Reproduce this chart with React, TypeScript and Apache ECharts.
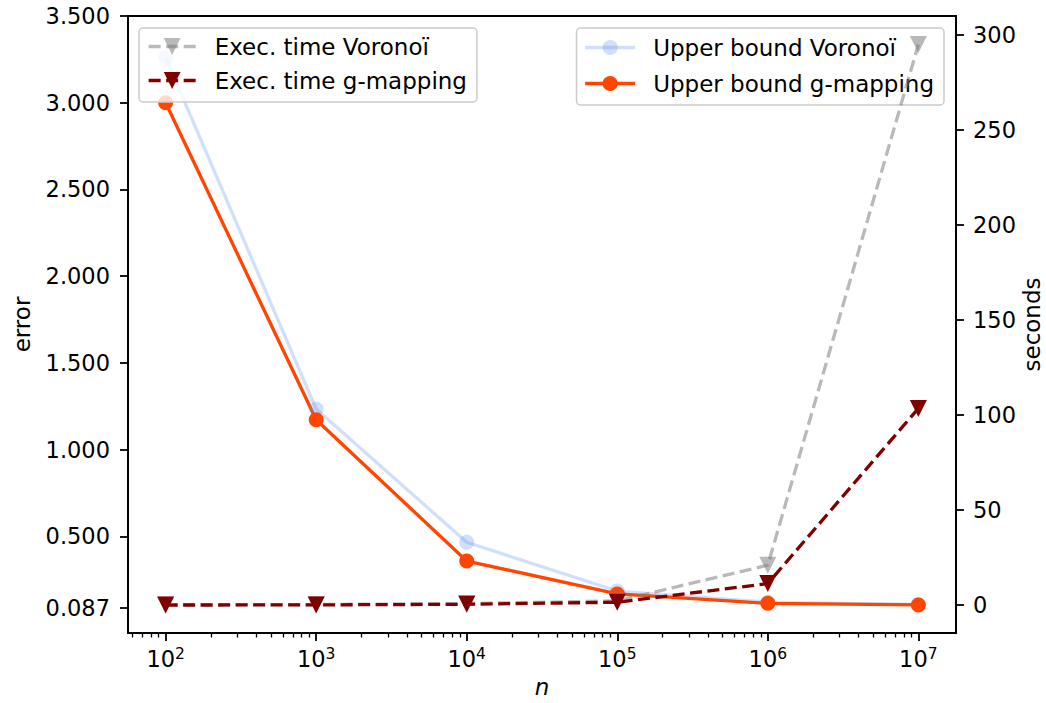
import React, { useEffect, useRef } from "react";
import * as echarts from "echarts";

const nValues = [1e2, 1e3, 1e4, 1e5, 1e6, 1e7];
const ubVoronoi = [3.26, 1.234, 0.466, 0.185, 0.12, 0.108];
const ubGmap = [3.0, 1.172, 0.358, 0.168, 0.114, 0.105];
const timeVoronoi = [0.05, 0.3, 0.8, 2.2, 21, 295];
const timeGmap = [0.02, 0.1, 0.4, 1.5, 11.3, 103.5];

const xMajorExp = [2, 3, 4, 5, 6, 7];
const leftTicks = [0.087, 0.5, 1.0, 1.5, 2.0, 2.5, 3.0, 3.5];
const rightTicks = [0, 50, 100, 150, 200, 250, 300];

const FONT = "DejaVu Sans";
const X_MIN = 1.75;
const X_MAX = 7.25;
const TICK_FS = 22.5;
const TEXT_FS = 23;

const minorTicks: number[] = [];
for (let e = 1; e <= 7; e++) {
  for (let k = 2; k <= 9; k++) {
    const v = Math.log10(k * Math.pow(10, e));
    if (v >= X_MIN && v <= X_MAX) minorTicks.push(v);
  }
}

const toPairs = (ys: number[]) => nValues.map((n, i) => [Math.log10(n), ys[i]]);

export default function App() {
  const ref = useRef<HTMLDivElement>(null);
  useEffect(() => {
    if (!ref.current) return;
    const chart = echarts.init(ref.current, null, { renderer: "svg" });
    const gridRect = { left: 128, right: 90, top: 16, bottom: 70 };
    const lw = 3.3;
    const dash = [12, 5.5];
    const option: any = {
      animation: false,
      backgroundColor: "#fff",
      textStyle: { fontFamily: FONT },
      grid: [
        { ...gridRect, show: true, borderColor: "#000", borderWidth: 1.8, backgroundColor: "transparent", containLabel: false, outerBoundsMode: "none" },
        { ...gridRect, show: false, containLabel: false, outerBoundsMode: "none" },
      ],
      xAxis: [
        {
          type: "value",
          gridIndex: 0,
          min: X_MIN,
          max: X_MAX,
          position: "bottom",
          name: "n",
          nameLocation: "middle",
          nameGap: 41,
          nameTextStyle: { fontFamily: FONT, fontSize: TEXT_FS, fontStyle: "italic", color: "#000" },
          axisLine: { show: true, onZero: false, lineStyle: { color: "#000", width: 1.8 } },
          axisTick: { show: true, length: 8, customValues: xMajorExp, lineStyle: { color: "#000", width: 1.8 } },
          axisLabel: {
            show: true,
            margin: 13,
            customValues: xMajorExp,
            formatter: (v: number) => `{b|10}{s|${Math.round(v)}}`,
            rich: {
              b: { fontFamily: FONT, fontSize: TICK_FS, lineHeight: 26, color: "#000" },
              s: { fontFamily: FONT, fontSize: 15.5, lineHeight: 15, verticalAlign: "top", color: "#000" },
            },
          },
          splitLine: { show: false },
        },
        {
          type: "value",
          gridIndex: 1,
          min: X_MIN,
          max: X_MAX,
          position: "bottom",
          axisLine: { show: false, onZero: false },
          axisTick: { show: true, length: 4.5, customValues: minorTicks, lineStyle: { color: "#000", width: 1.3 } },
          axisLabel: { show: false },
          splitLine: { show: false },
        },
      ],
      yAxis: [
        {
          type: "value",
          gridIndex: 0,
          position: "left",
          min: -0.057,
          max: 3.5,
          name: "error",
          nameLocation: "middle",
          nameGap: 95,
          nameTextStyle: { fontFamily: FONT, fontSize: TEXT_FS, color: "#000" },
          axisLine: { show: true, onZero: false, lineStyle: { color: "#000", width: 1.8 } },
          axisTick: { show: true, length: 8, customValues: leftTicks, lineStyle: { color: "#000", width: 1.8 } },
          axisLabel: {
            show: true,
            margin: 18,
            customValues: leftTicks,
            formatter: (v: number) => v.toFixed(3),
            fontFamily: FONT,
            fontSize: TICK_FS,
            color: "#000",
          },
          splitLine: { show: false },
        },
        {
          type: "value",
          gridIndex: 0,
          position: "right",
          min: -14.7,
          max: 310,
          name: "seconds",
          nameLocation: "middle",
          nameGap: 67,
          nameMoveOverlap: false,
          nameTextStyle: { fontFamily: FONT, fontSize: TEXT_FS, lineHeight: 18, color: "#000" },
          axisLine: { show: true, onZero: false, lineStyle: { color: "#000", width: 1.8 } },
          axisTick: { show: true, length: 8, customValues: rightTicks, lineStyle: { color: "#000", width: 1.8 } },
          axisLabel: {
            show: true,
            margin: 17,
            customValues: rightTicks,
            formatter: (v: number) => String(Math.round(v)),
            fontFamily: FONT,
            fontSize: TICK_FS,
            color: "#000",
          },
          splitLine: { show: false },
        },
        {
          type: "value",
          gridIndex: 1,
          show: false,
          min: 0,
          max: 1,
        },
      ],
      legend: [
        {
          data: ["Exec. time Voronoï", "Exec. time g-mapping"],
          orient: "vertical",
          left: 139,
          top: 28,
          z: 6,
          itemWidth: 47,
          itemHeight: 21,
          itemGap: 11,
          padding: [7, 10, 10, 8],
          backgroundColor: "rgba(255,255,255,0.8)",
          borderColor: "#cccccc",
          borderWidth: 1.5,
          borderRadius: 4,
          lineStyle: { width: lw },
          textStyle: { fontFamily: FONT, fontSize: TEXT_FS, lineHeight: 22, color: "#000", padding: [0, 0, 0, 14] },
        },
        {
          data: ["Upper bound Voronoï", "Upper bound g-mapping"],
          orient: "vertical",
          right: 102,
          top: 28,
          z: 2,
          itemWidth: 50,
          itemHeight: 19,
          itemGap: 13,
          padding: [8, 10, 10, 7],
          backgroundColor: "rgba(255,255,255,0.8)",
          borderColor: "#cccccc",
          borderWidth: 1.5,
          borderRadius: 4,
          lineStyle: { width: lw },
          textStyle: { fontFamily: FONT, fontSize: TEXT_FS, lineHeight: 22, color: "#000", padding: [0, 0, 0, 13] },
        },
      ],
      series: [
        {
          name: "Upper bound Voronoï",
          type: "line",
          xAxisIndex: 0,
          yAxisIndex: 0,
          z: 1,
          data: toPairs(ubVoronoi),
          symbol: "circle",
          symbolSize: 15,
          color: "#6495ED",
          lineStyle: { color: "#6495ED", width: lw, opacity: 0.3 },
          itemStyle: { color: "#6495ED", opacity: 0.3 },
        },
        {
          name: "Upper bound g-mapping",
          type: "line",
          xAxisIndex: 0,
          yAxisIndex: 0,
          z: 1,
          data: toPairs(ubGmap),
          symbol: "circle",
          symbolSize: 15,
          color: "#FF4500",
          lineStyle: { color: "#FF4500", width: lw },
          itemStyle: { color: "#FF4500" },
        },
        {
          name: "Exec. time Voronoï",
          type: "line",
          xAxisIndex: 0,
          yAxisIndex: 1,
          z: 3,
          data: toPairs(timeVoronoi),
          symbol: "triangle",
          symbolRotate: 180,
          symbolSize: 17,
          color: "#808080",
          lineStyle: { color: "#808080", width: lw, type: dash, opacity: 0.55 },
          itemStyle: { color: "#808080", opacity: 0.55 },
        },
        {
          name: "Exec. time g-mapping",
          type: "line",
          xAxisIndex: 0,
          yAxisIndex: 1,
          z: 3,
          data: toPairs(timeGmap),
          symbol: "triangle",
          symbolRotate: 180,
          symbolSize: 17,
          color: "#800000",
          lineStyle: { color: "#800000", width: lw, type: dash },
          itemStyle: { color: "#800000" },
        },
      ],
    };
    chart.setOption(option);
    return () => chart.dispose();
  }, []);
  return (
    <div
      ref={ref}
      style={{ position: "fixed", left: 0, top: 0, width: 1046, height: 703, background: "#fff" }}
    />
  );
}
